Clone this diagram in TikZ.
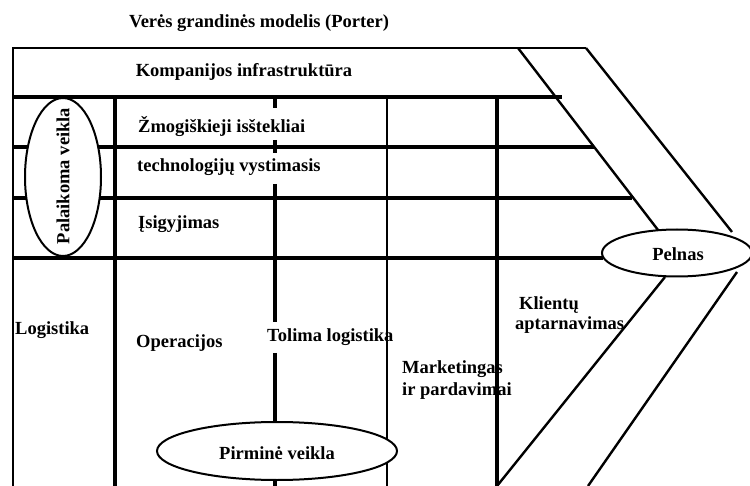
\documentclass[tikz,border=0pt]{standalone}
\usepackage{fontspec}
\setmainfont{Liberation Serif}
\usetikzlibrary{shapes.geometric}
\begin{document}
\begin{tikzpicture}[x=1pt,y=-1pt,
  label/.style={font=\fontsize{18.5}{22}\selectfont\bfseries, inner sep=0pt},
  grid/.style={line width=3.6pt},
  thin grid/.style={line width=2.8pt},
  frame/.style={line width=2.6pt},
  slant/.style={line width=2.4pt},
  bubble/.style={draw, ellipse, line width=2pt, fill=white, inner sep=0pt}]
\useasboundingbox[fill=white] (0,0) rectangle (750,486);

% corner points of the frame and the arrow head
\coordinate (tl) at (13,48);
\coordinate (bl) at (13,486);
\coordinate (ti) at (518,48);
\coordinate (to) at (586,48);

% outer frame: left side and top
\draw[frame] (bl) -- (tl) -- (to);

% horizontal rows of the support activities
\draw[grid] (13,97) -- (562,97);
\draw[grid] (13,147) -- (594,147);
\draw[grid] (13,198) -- (632,198);
\draw[grid] (13,258) -- (603,258);

% column separators
\draw[grid] (115,97) -- (115,486);
\draw[grid] (275,97) -- (275,108);
\draw[grid] (275,140) -- (275,153);
\draw[grid] (275,184) -- (275,322);
\draw[grid] (275,353) -- (275,486);
\draw[thin grid] (387,97) -- (387,486);
\draw[grid] (497,97) -- (497,486);

% profit ellipse at the arrow tip
\node[bubble, minimum width=150pt, minimum height=47pt] (pelnas) at (677,253) {};
\node[label] at (678,254) {Pelnas};

% arrow head edges
\coordinate (ui) at (658,230);
\coordinate (uo) at (732,232);
\coordinate (li) at (665,277);
\coordinate (lo) at (737,272);
\coordinate (bi) at (497,486);
\coordinate (bo) at (588,486);
\draw[slant] (ti) -- (ui);
\draw[slant] (to) -- (uo);
\draw[slant] (li) -- (bi);
\draw[slant] (lo) -- (bo);

% title and row labels
\node[label] (title) at (259,23) {Verės grandinės modelis (Porter)};
\node[label] (infra) at (244,72) {Kompanijos infrastruktūra};
\node[label, anchor=west] (hr) at (138,127) {Žmogiškieji isštekliai};
\node[label, anchor=west] (tech) at (137,167) {technologijų vystimasis};
\node[label, anchor=west] (proc) at (138,224) {Įsigyjimas};

% primary activity labels
\node[label, anchor=west] (log) at (15,330) {Logistika};
\node[label, anchor=west] (ops) at (136,343) {Operacijos};
\node[label, anchor=west] (outlog) at (267,337) {Tolima logistika};
\node[label, anchor=west, align=left] (mkt) at (402,380) {Marketingas\\ir pardavimai};
\node[label, anchor=west, align=left, font=\fontsize{18.5}{20}\selectfont\bfseries] (srv) at (515,315) {\hspace{4pt}Klientų\\aptarnavimas};

% redraw the separators that run over the label text
\draw[thin grid] (387,320) -- (387,400);
\draw[grid] (497,350) -- (497,400);

% support activities bubble
\node[bubble, minimum width=76pt, minimum height=158pt] (support) at (63,177) {};
\node[label, rotate=90] at (63,176) {Palaikoma veikla};

% primary activities bubble
\node[bubble, minimum width=240pt, minimum height=58pt] (primary) at (277,451) {};
\node[label] at (277,453) {Pirminė veikla};
\end{tikzpicture}
\end{document}
